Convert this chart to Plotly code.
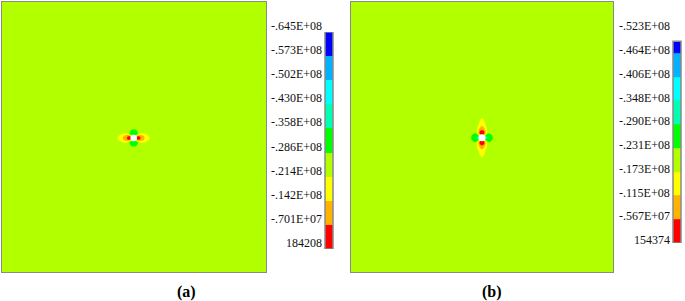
import numpy as np
import plotly.graph_objects as go

# ---------------- data ----------------
band_colors = ["#0000FF", "#00B2FF", "#00FFFF", "#00FFB2", "#00FF00",
               "#B2FF00", "#FFFF00", "#FFB200", "#FF0000"]

# contour level values (units of 1e7)
levels_a = [-6.45, -5.73, -5.02, -4.30, -3.58, -2.86, -2.14, -1.42, -0.701, 0.0184208]
labels_a = ["-.645E+08", "-.573E+08", "-.502E+08", "-.430E+08", "-.358E+08",
            "-.286E+08", "-.214E+08", "-.142E+08", "-.701E+07", "184208"]
levels_b = [-5.23, -4.64, -4.06, -3.48, -2.90, -2.31, -1.73, -1.15, -0.567, 0.0154374]
labels_b = ["-.523E+08", "-.464E+08", "-.406E+08", "-.348E+08", "-.290E+08",
            "-.231E+08", "-.173E+08", "-.115E+08", "-.567E+07", "154374"]

far_field_a = -2.5
far_field_b = -2.05

# panel (a): stress sampled around the hole (x = dx, y = dy, offsets from hole centre)
dx_a = [-20, -18, -16, -14, -12, -10, -8, -6, -4, -2, 0, 2, 4, 6, 8, 10, 12, 14, 16, 18, 20]
dy_a = [-10, -8, -6, -4, -2, 0, 2, 4, 6, 8, 10]
stress_a = [
    [-2.5, -2.5, -2.5, -2.5, -2.5, -2.5, -2.5, -2.5, -2.5, -2.55, -2.6, -2.55, -2.5, -2.5, -2.5, -2.5, -2.5, -2.5, -2.5, -2.5, -2.5],
    [-2.5, -2.5, -2.5, -2.5, -2.5, -2.5, -2.5, -2.5, -2.7, -2.92, -2.95, -2.92, -2.7, -2.5, -2.5, -2.5, -2.5, -2.5, -2.5, -2.5, -2.5],
    [-2.5, -2.5, -2.5, -2.5, -2.5, -2.5, -2.45, -2.5, -2.85, -3.1, -3.15, -3.1, -2.85, -2.5, -2.45, -2.5, -2.5, -2.5, -2.5, -2.5, -2.5],
    [-2.5, -2.5, -2.5, -2.35, -2.1, -2.0, -1.9, -2.1, -2.9, -3.3, -3.6, -3.3, -2.9, -2.1, -1.9, -2.0, -2.1, -2.35, -2.5, -2.5, -2.5],
    [-2.5, -2.5, -2.3, -1.95, -1.7, -1.4, -1.15, -0.8, -0.75, -2.5, -4.3, -2.5, -0.75, -0.8, -1.15, -1.4, -1.7, -1.95, -2.3, -2.5, -2.5],
    [-2.5, -2.5, -2.05, -1.8, -1.6, -1.3, -1.0, -0.45, -0.25, -0.2, -2.0, -0.2, -0.25, -0.45, -1.0, -1.3, -1.6, -1.8, -2.05, -2.5, -2.5],
    [-2.5, -2.5, -2.3, -1.95, -1.7, -1.4, -1.15, -0.8, -0.75, -2.5, -4.3, -2.5, -0.75, -0.8, -1.15, -1.4, -1.7, -1.95, -2.3, -2.5, -2.5],
    [-2.5, -2.5, -2.5, -2.35, -2.1, -2.0, -1.9, -2.1, -2.9, -3.3, -3.6, -3.3, -2.9, -2.1, -1.9, -2.0, -2.1, -2.35, -2.5, -2.5, -2.5],
    [-2.5, -2.5, -2.5, -2.5, -2.5, -2.5, -2.45, -2.5, -2.85, -3.1, -3.15, -3.1, -2.85, -2.5, -2.45, -2.5, -2.5, -2.5, -2.5, -2.5, -2.5],
    [-2.5, -2.5, -2.5, -2.5, -2.5, -2.5, -2.5, -2.5, -2.7, -2.92, -2.95, -2.92, -2.7, -2.5, -2.5, -2.5, -2.5, -2.5, -2.5, -2.5, -2.5],
    [-2.5, -2.5, -2.5, -2.5, -2.5, -2.5, -2.5, -2.5, -2.5, -2.55, -2.6, -2.55, -2.5, -2.5, -2.5, -2.5, -2.5, -2.5, -2.5, -2.5, -2.5],
]

# panel (b)
dx_b = [-14, -12, -10, -8, -6, -4, -2, 0, 2, 4, 6, 8, 10, 12, 14]
dy_b = [-22, -20, -18, -16, -14, -12, -10, -8, -6, -4, -2, 0, 2, 4, 6, 8, 10, 12, 14, 16, 18, 20, 22]
stress_b = [
    [-2.05, -2.05, -2.05, -2.05, -2.05, -2.05, -2.05, -2.05, -2.05, -2.05, -2.05, -2.05, -2.05, -2.05, -2.05],
    [-2.05, -2.05, -2.05, -2.05, -2.05, -2.05, -2.0, -1.8, -2.0, -2.05, -2.05, -2.05, -2.05, -2.05, -2.05],
    [-2.05, -2.05, -2.05, -2.05, -2.05, -2.05, -1.75, -1.6, -1.75, -2.05, -2.05, -2.05, -2.05, -2.05, -2.05],
    [-2.05, -2.05, -2.05, -2.05, -2.05, -2.0, -1.6, -1.45, -1.6, -2.0, -2.05, -2.05, -2.05, -2.05, -2.05],
    [-2.05, -2.05, -2.05, -2.05, -2.05, -1.9, -1.5, -1.35, -1.5, -1.9, -2.05, -2.05, -2.05, -2.05, -2.05],
    [-2.05, -2.05, -2.05, -2.05, -2.05, -1.75, -1.35, -1.2, -1.35, -1.75, -2.05, -2.05, -2.05, -2.05, -2.05],
    [-2.05, -2.05, -2.05, -2.05, -2.05, -1.5, -1.15, -0.95, -1.15, -1.5, -2.05, -2.05, -2.05, -2.05, -2.05],
    [-2.05, -2.05, -2.05, -2.05, -2.05, -1.4, -0.85, -0.6, -0.85, -1.4, -2.05, -2.05, -2.05, -2.05, -2.05],
    [-2.05, -2.05, -2.05, -2.05, -2.0, -1.25, -0.45, -0.35, -0.45, -1.25, -2.0, -2.05, -2.05, -2.05, -2.05],
    [-2.05, -2.05, -2.1, -2.35, -2.35, -1.5, -0.4, -0.15, -0.4, -1.5, -2.35, -2.35, -2.1, -2.05, -2.05],
    [-2.05, -2.05, -2.4, -2.6, -2.6, -2.6, -1.5, -0.1, -1.5, -2.6, -2.6, -2.6, -2.4, -2.05, -2.05],
    [-2.05, -2.1, -2.45, -2.65, -2.7, -3.6, -4.5, -2.0, -4.5, -3.6, -2.7, -2.65, -2.45, -2.1, -2.05],
    [-2.05, -2.05, -2.4, -2.6, -2.6, -2.6, -1.5, -0.1, -1.5, -2.6, -2.6, -2.6, -2.4, -2.05, -2.05],
    [-2.05, -2.05, -2.1, -2.35, -2.35, -1.5, -0.4, -0.15, -0.4, -1.5, -2.35, -2.35, -2.1, -2.05, -2.05],
    [-2.05, -2.05, -2.05, -2.05, -2.0, -1.25, -0.45, -0.35, -0.45, -1.25, -2.0, -2.05, -2.05, -2.05, -2.05],
    [-2.05, -2.05, -2.05, -2.05, -2.05, -1.4, -0.85, -0.6, -0.85, -1.4, -2.05, -2.05, -2.05, -2.05, -2.05],
    [-2.05, -2.05, -2.05, -2.05, -2.05, -1.5, -1.15, -0.95, -1.15, -1.5, -2.05, -2.05, -2.05, -2.05, -2.05],
    [-2.05, -2.05, -2.05, -2.05, -2.05, -1.75, -1.35, -1.2, -1.35, -1.75, -2.05, -2.05, -2.05, -2.05, -2.05],
    [-2.05, -2.05, -2.05, -2.05, -2.05, -1.9, -1.5, -1.35, -1.5, -1.9, -2.05, -2.05, -2.05, -2.05, -2.05],
    [-2.05, -2.05, -2.05, -2.05, -2.05, -2.0, -1.6, -1.45, -1.6, -2.0, -2.05, -2.05, -2.05, -2.05, -2.05],
    [-2.05, -2.05, -2.05, -2.05, -2.05, -2.05, -1.75, -1.6, -1.75, -2.05, -2.05, -2.05, -2.05, -2.05, -2.05],
    [-2.05, -2.05, -2.05, -2.05, -2.05, -2.05, -2.0, -1.8, -2.0, -2.05, -2.05, -2.05, -2.05, -2.05, -2.05],
    [-2.05, -2.05, -2.05, -2.05, -2.05, -2.05, -2.05, -2.05, -2.05, -2.05, -2.05, -2.05, -2.05, -2.05, -2.05],
]

hole_radius_a = 3.3
hole_radius_b = 3.5

# ---------------- figure ----------------
W, H = 685, 301
colorscale = [[k / 8, c] for k, c in enumerate(band_colors)]
BORDER = "#8a8a8a"
FONT = "Liberation Serif"


def px_x(a, b):
    return [a / W, b / W]


def px_y(top, bottom):
    return [1 - bottom / H, 1 - top / H]


def contour(dx, dy, z, far, levels, xa, ya):
    zz = np.pad(np.array(z, dtype=float), 1, constant_values=far)
    x = [-1000] + list(dx) + [1000]
    y = [-1000] + list(dy) + [1000]
    size = (levels[-1] - levels[0]) / 9
    start = levels[0] + size
    end = levels[0] + 8 * size + 0.01 * size
    return go.Contour(
        x=x, y=y, z=zz, xaxis=xa, yaxis=ya, autocontour=False,
        contours=dict(start=start, end=end, size=size,
                      coloring="fill", showlines=False),
        colorscale=colorscale, line=dict(width=0), showscale=False,
        hoverinfo="skip")


def bar(levels, edges, xa, ya):
    mids = [(levels[k] + levels[k + 1]) / 2 for k in range(9)]
    return go.Heatmap(z=[[m] for m in mids], x=[0], y=edges,
                      zmin=mids[0], zmax=mids[-1], colorscale=colorscale,
                      showscale=False, xaxis=xa, yaxis=ya, hoverinfo="skip")


fig = go.Figure()
fig.add_trace(contour(dx_a, dy_a, stress_a, far_field_a, levels_a, "x", "y"))
fig.add_trace(contour(dx_b, dy_b, stress_b, far_field_b, levels_b, "x2", "y2"))
fig.add_trace(bar(levels_a, list(range(10)), "x3", "y3"))
fig.add_trace(bar(levels_b, [0.5] + list(range(1, 10)), "x4", "y4"))

panel_ax = dict(showline=True, mirror=True, linecolor=BORDER, linewidth=1,
                showgrid=False, zeroline=False, showticklabels=False,
                ticks="", fixedrange=True)
bar_ax = dict(visible=False, fixedrange=True)

fig.update_layout(
    width=W, height=H, margin=dict(l=0, r=0, t=0, b=0),
    paper_bgcolor="white", plot_bgcolor="white", showlegend=False,
    xaxis=dict(domain=px_x(2, 266), range=[-131.7, 132.3], **panel_ax),
    yaxis=dict(domain=px_y(2, 272), range=[-134, 136], **panel_ax),
    xaxis2=dict(domain=px_x(351, 613), range=[-131, 131], anchor="y2", **panel_ax),
    yaxis2=dict(domain=px_y(2, 272), range=[-134.3, 135.7], anchor="x2", **panel_ax),
    xaxis3=dict(domain=px_x(325, 333), range=[-0.5, 0.5], anchor="y3", **bar_ax),
    yaxis3=dict(domain=px_y(32, 249), range=[9, 0], anchor="x3", **bar_ax),
    xaxis4=dict(domain=px_x(673, 681), range=[-0.5, 0.5], anchor="y4", **bar_ax),
    yaxis4=dict(domain=px_y(29.25, 243), range=[9, 0], anchor="x4", **bar_ax),
)

shapes = [
    dict(type="circle", xref="x", yref="y", x0=-hole_radius_a, x1=hole_radius_a,
         y0=-hole_radius_a, y1=hole_radius_a, fillcolor="white", line=dict(width=0)),
    dict(type="circle", xref="x2", yref="y2", x0=-hole_radius_b, x1=hole_radius_b,
         y0=-hole_radius_b, y1=hole_radius_b, fillcolor="white", line=dict(width=0)),
    dict(type="rect", xref="x3 domain", yref="y3", x0=0, x1=1, y0=0, y1=9,
         line=dict(color=BORDER, width=1.5), fillcolor="rgba(0,0,0,0)"),
    dict(type="rect", xref="x4 domain", yref="y4", x0=0, x1=1, y0=0.5, y1=9,
         line=dict(color=BORDER, width=1.5), fillcolor="rgba(0,0,0,0)"),
]
fig.update_layout(shapes=shapes)

annotations = []
for k, t in enumerate(labels_a):
    annotations.append(dict(text=t, xref="paper", yref="y3", x=324 / W, y=k,
                            xanchor="right", yanchor="middle", yshift=6,
                            showarrow=False,
                            font=dict(family=FONT, size=12, color="#111")))
for k, t in enumerate(labels_b):
    annotations.append(dict(text=t, xref="paper", yref="y4", x=672 / W, y=k,
                            xanchor="right", yanchor="middle", yshift=3,
                            showarrow=False,
                            font=dict(family=FONT, size=12, color="#111")))
annotations.append(dict(text="<b>(a)</b>", xref="paper", yref="paper",
                        x=187 / W, y=1 - 292 / H, showarrow=False,
                        xanchor="center", yanchor="middle",
                        font=dict(family=FONT, size=16, color="black")))
annotations.append(dict(text="<b>(b)</b>", xref="paper", yref="paper",
                        x=492 / W, y=1 - 292 / H, showarrow=False,
                        xanchor="center", yanchor="middle",
                        font=dict(family=FONT, size=16, color="black")))
fig.update_layout(annotations=annotations)

fig.write_html("out.html", config={"displayModeBar": False},
               post_script="document.body.style.margin='0';")
